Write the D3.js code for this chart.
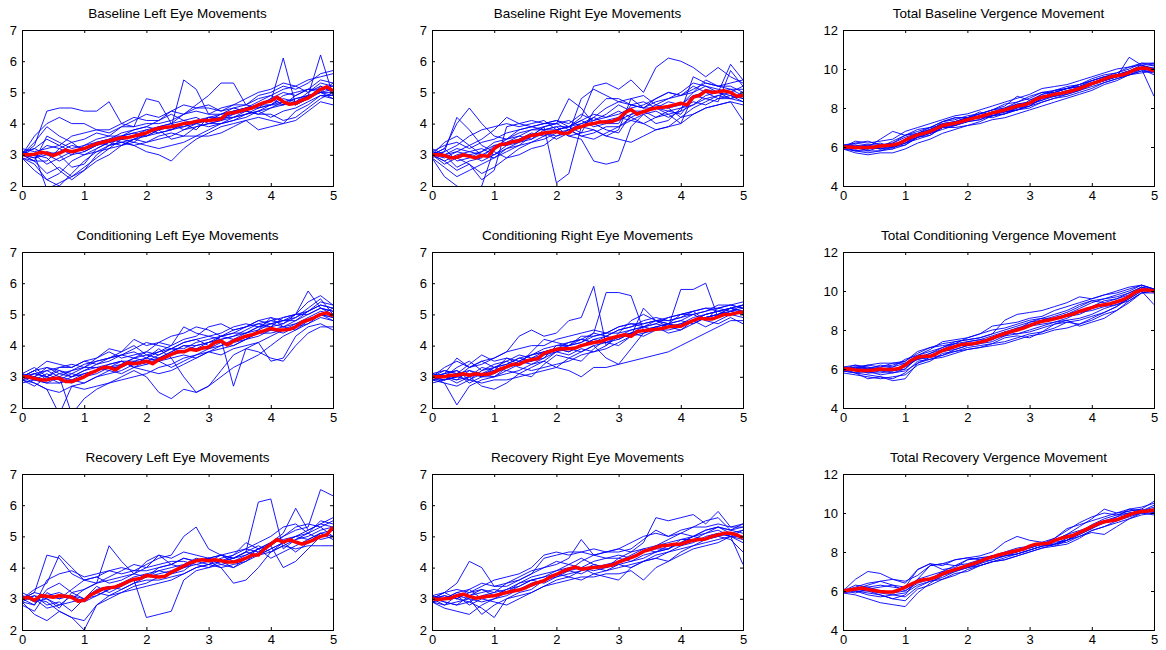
<!DOCTYPE html>
<html>
<head>
<meta charset="utf-8">
<script src="https://cdn.jsdelivr.net/npm/d3@7"></script>
<style>
  body { margin: 0; background: #fff; }
  text { font-family: "Liberation Sans", Arial, sans-serif; fill: #000; }
</style>
</head>
<body>
<div id="chart"></div>
<script>
// sample times (seconds)
var timeFine = [0,0.1,0.2,0.3,0.4,0.5,0.6,0.7,0.8,0.9,1.0,1.1,1.2,1.3,1.4,1.5,1.6,1.7,1.8,1.9,2.0,2.1,2.2,2.3,2.4,2.5,2.6,2.7,2.8,2.9,3.0,3.1,3.2,3.3,3.4,3.5,3.6,3.7,3.8,3.9,4.0,4.1,4.2,4.3,4.4,4.5,4.6,4.7,4.8,4.9,5.0];
var timeCoarse = [0,0.2,0.4,0.6,0.8,1.0,1.2,1.4,1.6,1.8,2.0,2.2,2.4,2.6,2.8,3.0,3.2,3.4,3.6,3.8,4.0,4.2,4.4,4.6,4.8,5.0];

var titles = ["Baseline Left Eye Movements", "Baseline Right Eye Movements", "Total Baseline Vergence Movement",
  "Conditioning Left Eye Movements", "Conditioning Right Eye Movements", "Total Conditioning Vergence Movement",
  "Recovery Left Eye Movements", "Recovery Right Eye Movements", "Total Recovery Vergence Movement"];

var xTicks = [0, 1, 2, 3, 4, 5];
var eyeTicks = [2, 3, 4, 5, 6, 7];
var vergenceTicks = [4, 6, 8, 10, 12];

//Baseline left eye
var baselineLeftMean = [3.00,3.00,3.02,3.08,3.05,2.97,3.05,3.15,3.10,3.15,3.20,3.28,3.35,3.40,3.45,3.50,3.55,3.55,3.60,3.65,3.70,3.80,3.85,3.88,3.90,3.95,4.00,4.02,4.07,4.10,4.10,4.12,4.15,4.33,4.35,4.40,4.45,4.50,4.60,4.68,4.72,4.85,4.70,4.62,4.65,4.75,4.82,4.95,5.10,5.18,5.05];
var baselineLeftTraces = [
  [3.0,3.3,4.4,4.5,4.5,4.4,4.4,4.7,4.0,3.9,4.0,4.0,4.1,4.3,4.4,4.3,4.5,4.6,4.6,4.9,5.0,5.2,5.1,5.3,5.6,5.7],
  [3.0,3.6,4.0,4.2,4.0,4.0,3.8,3.7,3.9,3.9,4.8,4.7,4.0,4.3,4.6,4.9,5.3,5.3,4.6,4.5,4.8,5.0,4.9,5.1,5.4,5.3],
  [2.9,2.5,2.2,2.0,2.4,2.8,3.1,3.3,3.4,3.5,3.6,3.7,3.8,4.0,3.8,4.2,4.2,4.3,4.5,4.6,4.6,4.6,4.7,5.0,5.2,5.0],
  [3.1,3.0,1.9,2.1,2.3,2.6,2.9,3.2,3.5,3.6,3.6,3.8,3.5,3.6,3.6,3.8,4.0,4.1,4.2,4.4,4.5,4.6,4.8,4.9,5.0,4.9],
  [3.0,2.8,2.8,3.2,3.0,3.1,3.3,3.4,3.5,3.6,3.8,3.9,4.0,4.1,4.2,4.0,4.1,4.3,4.4,4.3,4.3,4.1,4.2,4.5,4.8,5.0],
  [3.0,3.0,3.3,3.2,3.4,3.1,3.3,3.5,3.4,3.3,3.1,3.0,2.8,3.2,3.5,3.7,3.9,4.0,4.1,4.2,4.1,4.0,4.4,4.6,4.9,4.9],
  [2.9,2.8,2.4,2.6,2.3,2.5,2.8,3.0,3.3,3.5,3.7,3.9,4.0,3.8,3.9,4.0,4.1,4.4,4.5,4.6,4.7,6.1,4.6,4.8,5.0,5.0],
  [3.0,3.2,3.5,3.3,3.6,3.7,3.8,3.8,4.0,4.2,4.1,4.1,4.4,4.6,4.5,4.5,4.4,4.5,4.6,4.8,4.9,4.7,4.6,4.9,6.2,4.9],
  [3.1,3.0,2.7,2.9,3.1,3.0,3.2,3.4,3.3,3.4,3.3,3.2,3.3,3.4,3.6,3.6,3.7,3.9,4.1,3.8,3.9,4.0,4.1,4.4,4.7,4.6],
  [3.0,2.8,3.6,3.4,3.2,3.3,3.5,3.6,3.6,3.8,3.9,4.1,4.3,4.1,4.0,4.2,4.3,4.4,4.5,4.7,4.9,5.1,5.2,5.0,5.3,5.2],
  [3.0,3.0,2.9,2.5,2.2,2.5,3.0,3.3,3.4,3.3,3.4,3.5,3.6,3.8,4.0,3.9,4.0,4.2,4.3,4.5,4.6,4.8,4.7,4.9,5.0,4.8],
  [3.2,3.1,3.2,3.3,3.1,3.2,3.4,3.5,3.7,3.8,3.9,3.8,3.9,5.4,5.1,4.3,4.3,4.4,4.5,4.5,4.6,4.9,5.0,5.1,5.1,5.2],
  [3.0,2.9,3.0,2.8,3.0,3.3,3.4,3.5,3.6,3.7,3.6,3.8,3.9,3.9,4.0,4.1,4.2,4.2,4.3,4.4,4.6,4.7,4.8,4.9,5.0,5.1],
  [3.0,3.4,3.9,3.6,3.4,3.5,3.7,3.6,3.9,4.1,4.3,4.2,4.4,4.3,4.5,4.6,4.4,4.6,4.8,5.0,5.1,5.3,5.2,5.4,5.5,5.6],
  [2.9,2.7,2.2,2.4,2.8,3.0,3.1,3.2,3.3,3.5,3.4,3.6,3.7,3.6,3.9,4.0,4.0,4.1,4.3,4.4,4.2,4.4,4.5,4.7,4.9,4.8],
  [3.1,3.2,3.0,3.1,3.3,3.2,3.4,3.3,3.6,3.7,3.8,3.7,3.8,4.0,4.1,4.1,4.3,4.5,4.4,4.6,4.8,4.6,4.9,5.1,5.0,5.3],
  [3.0,2.9,3.1,3.0,2.6,2.7,3.2,3.4,3.5,3.4,3.7,3.9,3.8,3.9,4.1,4.2,4.1,4.2,4.4,4.3,4.5,4.7,4.6,4.8,5.2,5.0]
];

//Baseline right eye
var baselineRightMean = [3.00,3.00,2.98,2.90,2.92,3.00,2.95,2.90,2.98,2.95,3.20,3.33,3.35,3.42,3.45,3.55,3.62,3.65,3.70,3.72,3.75,3.68,3.70,3.85,3.90,3.97,4.00,4.05,4.05,4.07,4.15,4.35,4.45,4.30,4.38,4.45,4.50,4.52,4.55,4.60,4.65,4.60,4.85,4.90,5.05,5.00,5.02,5.05,5.00,4.88,4.90];
var baselineRightTraces = [
  [3.0,3.2,4.0,4.5,4.0,3.6,3.5,3.8,3.9,4.0,4.1,3.9,4.2,5.2,5.3,5.1,5.4,5.0,5.8,6.1,6.0,5.8,5.5,5.8,5.5,5.3],
  [3.0,2.8,2.5,2.7,2.2,2.5,3.9,4.0,3.9,3.8,3.9,3.6,3.7,4.4,4.8,4.8,4.6,4.7,4.5,4.5,4.6,5.0,5.4,5.2,5.2,5.0],
  [2.9,2.3,2.0,1.8,2.0,3.2,3.4,3.5,3.6,3.9,2.1,2.4,3.9,4.2,4.0,4.0,4.6,4.5,4.8,5.0,4.9,5.2,5.0,5.0,4.9,4.8],
  [3.1,3.0,3.1,3.0,2.8,3.0,3.3,3.5,3.7,3.6,3.8,3.9,4.0,4.1,4.3,4.6,4.4,4.4,4.5,4.4,4.3,4.8,5.1,5.0,5.1,4.9],
  [3.0,3.4,3.6,3.3,3.0,2.9,3.2,3.4,3.6,3.9,4.0,4.8,4.5,4.0,3.8,3.7,4.3,4.4,4.2,4.3,4.0,4.9,4.8,4.7,5.7,5.2],
  [3.0,2.9,3.1,3.3,3.5,3.8,4.2,4.0,4.1,4.0,4.1,4.0,4.3,4.1,4.2,4.4,4.2,4.0,3.8,3.9,4.0,4.3,4.5,4.6,4.7,4.1],
  [3.2,3.0,2.6,2.8,2.9,3.3,3.4,3.6,3.5,3.8,3.8,3.6,3.5,2.8,2.7,2.8,3.9,4.3,4.0,4.1,4.5,4.6,4.9,5.0,4.8,4.7],
  [3.0,2.8,3.0,3.1,3.2,3.0,3.2,3.3,3.6,3.7,3.6,3.8,3.6,3.7,3.9,3.9,4.2,4.4,4.6,4.5,4.2,4.5,4.7,4.9,4.8,4.9],
  [2.9,3.1,4.2,3.8,3.3,3.1,2.9,3.0,3.2,3.3,3.6,3.7,4.8,5.1,4.9,4.7,4.8,4.9,4.6,4.8,5.0,5.3,5.2,5.0,5.9,5.4],
  [3.0,3.0,2.9,2.7,2.4,2.6,2.9,3.2,3.4,3.6,3.8,3.9,3.7,3.8,3.6,3.5,3.4,3.6,3.8,3.9,4.2,4.3,4.5,4.6,4.7,4.6],
  [3.1,3.3,3.4,3.2,3.4,3.5,3.7,3.8,3.9,4.0,4.0,4.1,3.9,3.8,3.6,3.8,4.8,4.5,4.5,4.3,4.4,5.5,5.3,5.2,5.1,5.1],
  [3.0,2.7,2.9,3.0,3.1,3.4,3.5,3.7,3.8,3.8,3.9,3.9,4.1,3.9,4.0,4.1,4.3,4.4,4.5,4.7,4.6,4.9,5.0,4.8,4.8,5.0],
  [3.0,3.1,3.3,3.6,3.8,3.9,4.0,3.9,4.0,4.1,3.8,3.9,4.1,4.3,4.2,4.3,4.5,4.6,4.8,5.0,4.9,5.0,5.2,5.1,5.0,5.2],
  [2.9,2.6,2.3,2.5,2.7,2.9,3.1,3.3,3.4,3.5,3.7,3.8,3.6,3.5,3.7,3.9,4.1,4.0,4.2,4.4,4.5,4.7,4.6,4.8,4.9,4.7],
  [3.1,3.0,3.2,3.1,3.0,3.2,3.5,3.6,3.8,3.9,4.0,3.8,4.0,4.2,4.5,4.7,4.6,4.5,4.7,4.8,4.9,5.1,5.3,5.2,5.3,5.4],
  [3.0,3.2,2.8,2.9,3.1,3.3,3.3,3.4,3.5,3.7,3.5,3.7,3.9,4.0,4.1,4.2,4.1,4.3,4.4,4.2,4.4,4.6,4.8,4.9,5.0,4.8]
];

//Baseline vergence
var baselineVergenceMean = [6.00,6.00,5.98,5.97,5.97,6.00,6.05,6.08,6.10,6.18,6.35,6.50,6.62,6.70,6.80,6.95,7.10,7.17,7.22,7.30,7.40,7.48,7.55,7.65,7.75,7.82,7.90,8.00,8.10,8.15,8.25,8.45,8.55,8.62,8.70,8.75,8.82,8.90,9.00,9.12,9.25,9.35,9.48,9.60,9.65,9.70,9.82,9.98,10.05,10.02,9.90];
var baselineVergenceTraces = [
  [6.0,6.2,6.3,6.1,6.2,6.6,6.9,7.0,7.3,7.5,7.5,7.7,7.9,8.2,8.3,8.5,8.8,8.9,9.1,9.2,9.5,9.7,9.8,10.1,10.3,10.2],
  [5.9,5.8,5.7,5.8,5.9,6.1,6.5,6.7,6.9,7.1,7.3,7.4,7.6,7.7,7.9,8.1,8.3,8.5,8.7,8.9,9.1,9.3,9.5,9.7,9.9,9.8],
  [6.1,6.1,6.0,6.4,6.8,6.6,6.8,7.0,7.3,7.4,7.6,7.7,7.9,8.1,8.6,8.4,8.7,8.9,9.0,9.2,9.4,9.6,9.7,9.9,10.1,10.0],
  [6.0,5.9,6.0,5.9,6.0,6.2,6.4,6.6,7.0,7.2,7.4,7.6,7.5,7.7,7.9,8.2,8.4,8.6,8.7,8.9,9.2,9.5,9.6,9.8,10.0,8.6],
  [5.9,6.0,5.8,6.0,6.1,6.4,6.7,6.9,7.1,7.2,7.3,7.4,7.7,7.8,7.9,8.1,8.5,8.8,9.0,9.1,9.3,9.4,9.6,10.6,10.2,10.0],
  [6.1,6.2,6.1,6.2,6.0,6.3,6.6,6.8,7.3,7.5,7.5,7.7,7.9,8.0,8.3,8.6,8.8,8.8,9.0,9.2,9.4,9.6,9.8,10.0,10.3,10.3],
  [6.0,5.8,5.9,6.0,6.0,6.1,6.5,6.7,7.0,7.0,7.1,7.3,7.6,7.8,7.9,8.0,8.3,8.5,8.6,8.8,9.0,9.3,9.5,9.7,10.0,9.9],
  [5.9,6.0,6.1,5.9,5.9,6.4,6.6,6.7,7.0,7.3,7.4,7.5,7.8,7.9,8.1,8.2,8.6,8.7,8.9,9.0,9.3,9.5,9.6,9.8,10.1,10.2],
  [6.0,6.1,5.9,6.0,6.3,6.6,6.7,6.9,7.2,7.3,7.5,7.5,7.7,7.8,8.0,8.4,8.6,8.6,8.8,9.1,9.2,9.5,9.7,9.9,10.0,10.1],
  [6.0,5.8,5.8,5.8,6.0,6.2,6.6,6.8,7.1,7.1,7.3,7.6,7.7,7.9,8.1,8.2,8.4,8.7,8.8,8.9,9.2,9.4,9.6,9.8,10.0,9.7],
  [6.1,6.0,6.1,6.1,6.2,6.5,6.7,7.0,7.1,7.3,7.5,7.6,7.8,8.0,8.2,8.3,8.7,8.8,9.0,9.1,9.4,9.6,9.7,9.9,10.2,10.0],
  [5.9,5.9,6.0,5.9,6.1,6.3,6.5,6.6,7.0,7.1,7.4,7.5,7.6,7.7,8.0,8.1,8.5,8.6,8.8,9.0,9.2,9.4,9.6,9.7,9.9,9.9],
  [6.0,6.3,6.2,6.3,6.4,6.8,7.0,7.2,7.4,7.6,7.7,7.9,8.1,8.3,8.5,8.7,9.0,9.1,9.2,9.4,9.6,9.8,10.0,10.1,10.2,10.3],
  [5.9,5.7,5.6,5.7,5.7,5.9,6.2,6.4,6.7,6.9,7.1,7.2,7.4,7.5,7.7,7.9,8.1,8.3,8.5,8.7,8.9,9.2,9.4,9.7,9.8,9.9],
  [6.0,6.0,5.9,6.1,6.0,6.2,6.5,6.9,7.2,7.3,7.5,7.8,7.6,7.9,8.2,8.3,8.5,8.9,9.0,9.1,9.3,9.5,9.6,9.9,10.1,10.0]
];

//Conditioning left eye
var conditioningLeftMean = [3.00,3.00,2.95,2.90,2.90,2.95,2.95,2.85,2.85,2.92,3.00,3.12,3.20,3.30,3.30,3.22,3.35,3.45,3.42,3.45,3.50,3.42,3.55,3.62,3.72,3.80,3.80,3.88,3.85,3.92,3.95,4.10,4.15,4.02,4.15,4.22,4.30,4.35,4.42,4.48,4.55,4.50,4.50,4.52,4.60,4.75,4.82,4.90,5.00,5.05,4.95];
var conditioningLeftTraces = [
  [3.0,3.2,3.5,3.4,3.3,3.5,3.6,3.9,3.8,4.0,3.7,3.8,4.0,4.6,4.4,4.3,4.2,4.3,4.5,4.7,4.8,4.7,5.0,5.75,5.2,5.1],
  [2.9,2.8,2.6,1.8,2.7,2.6,2.7,2.8,2.9,3.0,3.1,3.3,3.4,3.6,3.7,3.8,3.9,4.0,4.2,4.4,4.5,4.6,4.7,4.9,5.1,5.0],
  [3.0,3.1,3.2,3.0,1.8,2.3,2.6,2.8,3.0,3.2,3.0,2.5,2.3,2.6,2.5,2.7,3.0,3.3,3.5,3.7,4.0,4.3,4.5,4.7,5.0,5.2],
  [2.9,2.7,3.0,2.9,3.1,3.3,3.3,3.4,3.5,3.3,3.5,3.6,3.8,4.0,3.9,4.1,4.2,2.7,3.9,3.8,3.6,3.5,4.0,4.4,4.6,4.6],
  [3.0,3.0,2.9,3.1,3.0,3.2,3.3,3.2,3.4,3.6,3.7,3.6,3.8,4.0,4.0,4.1,4.2,4.3,4.4,4.6,4.6,4.7,4.9,5.1,5.4,5.3],
  [3.1,3.0,3.2,3.3,3.3,3.5,3.4,3.5,3.7,3.8,3.6,3.5,3.3,3.5,3.7,3.9,4.1,4.0,4.2,4.5,4.9,4.6,4.5,4.8,5.0,4.8],
  [3.0,2.8,2.6,2.5,2.7,2.8,3.0,3.1,3.2,3.4,3.6,3.9,3.6,3.0,2.5,2.7,3.2,3.7,3.9,4.1,4.3,4.5,4.6,4.8,5.0,4.9],
  [2.9,3.1,3.0,3.3,3.4,3.3,3.6,3.8,3.6,3.7,3.8,4.1,4.3,4.4,4.6,4.5,4.3,4.4,4.6,4.8,4.9,4.8,4.9,5.2,5.5,5.0],
  [3.0,2.9,2.8,2.8,3.0,3.1,3.2,3.4,3.5,3.5,3.4,3.6,3.7,3.8,3.9,3.9,4.0,4.2,4.3,4.4,4.4,4.5,4.7,4.8,5.0,4.9],
  [3.1,3.3,3.0,3.2,3.1,3.0,3.1,3.3,3.5,3.3,3.2,3.1,3.2,3.4,3.6,3.8,3.7,3.9,4.0,4.1,3.5,3.6,4.3,4.6,4.7,4.5],
  [2.8,2.9,3.1,2.9,2.8,3.0,3.2,3.3,3.4,3.6,3.5,3.7,3.9,3.9,4.1,4.2,4.3,4.4,4.4,4.5,4.7,4.8,4.8,5.1,5.3,5.2],
  [3.0,3.2,2.9,3.0,3.2,3.4,3.5,3.6,3.8,4.2,4.0,4.1,4.0,4.2,4.3,4.6,4.7,4.5,4.6,4.7,4.6,4.9,5.0,5.4,5.6,5.3],
  [3.0,3.1,3.0,2.8,2.9,3.1,3.2,3.3,3.3,3.5,3.6,3.8,3.9,3.8,4.0,4.1,4.3,4.2,4.4,4.6,4.7,4.8,5.0,5.0,5.2,5.0],
  [2.9,3.0,3.3,3.1,3.2,3.3,3.5,3.6,3.7,3.9,4.1,4.0,3.9,4.1,4.2,4.3,4.4,4.6,4.7,4.6,4.8,4.9,5.0,5.1,5.3,5.2],
  [3.1,2.9,2.8,3.0,2.9,2.8,3.0,3.2,3.1,3.3,3.4,3.5,3.6,3.7,3.6,3.8,4.0,4.1,4.2,4.3,4.5,4.4,4.6,4.7,4.9,4.8],
  [3.0,3.2,3.3,3.2,3.0,3.2,3.4,3.6,3.7,3.6,3.8,3.7,3.9,4.1,4.2,4.0,4.3,4.5,4.6,4.8,4.7,4.6,4.8,5.0,5.2,5.1]
];

//Conditioning right eye
var conditioningRightMean = [3.00,3.00,3.00,3.05,3.05,3.10,3.05,3.10,3.07,3.08,3.15,3.25,3.32,3.40,3.40,3.50,3.55,3.58,3.75,3.82,3.88,3.90,3.90,3.92,4.00,4.05,4.10,4.12,4.20,4.25,4.30,4.35,4.30,4.45,4.48,4.50,4.52,4.55,4.60,4.62,4.62,4.72,4.80,4.88,4.85,4.85,4.92,5.00,5.00,5.05,5.08];
var conditioningRightTraces = [
  [3.0,3.1,3.6,3.3,3.4,3.6,3.8,4.3,4.5,4.3,4.4,4.8,4.9,5.9,4.0,4.4,4.8,5.0,4.8,4.7,4.8,5.0,4.8,5.2,5.3,5.4],
  [3.0,2.8,2.1,2.7,2.9,3.0,3.2,3.4,3.5,3.6,3.8,4.0,4.1,4.4,5.7,5.7,5.6,4.5,4.6,4.7,4.6,4.8,4.9,5.0,5.1,5.2],
  [2.9,2.9,3.0,3.3,3.5,3.3,3.5,3.7,3.6,3.8,3.9,3.8,4.0,4.2,4.1,4.3,4.4,4.6,4.7,4.6,5.8,5.8,6.0,4.9,5.1,5.0],
  [3.0,3.1,3.2,2.9,2.8,2.9,2.9,3.0,3.1,3.2,3.3,3.2,3.0,3.3,3.3,3.4,3.5,3.6,3.7,3.8,4.0,4.2,4.4,4.6,4.8,4.8],
  [3.1,3.0,2.8,3.0,2.7,2.6,2.8,3.1,3.3,3.5,3.8,3.7,3.9,3.8,4.0,4.3,4.4,4.5,4.5,4.6,4.7,4.9,5.0,5.1,5.2,5.0],
  [2.9,3.0,3.3,3.5,3.2,3.3,3.4,3.6,3.5,3.7,3.9,4.0,4.2,4.1,4.1,4.0,4.3,5.2,4.8,4.6,4.5,4.7,4.9,5.0,5.2,5.1],
  [3.0,2.9,3.0,3.1,3.0,3.1,3.3,3.5,3.7,3.8,3.9,4.1,4.2,4.1,4.3,4.5,4.6,4.7,4.8,4.8,4.9,5.0,5.1,5.2,5.1,5.3],
  [3.1,3.2,3.1,2.8,3.0,3.3,3.2,3.1,3.0,3.4,3.7,3.6,3.5,3.9,4.2,4.3,4.5,4.6,4.7,4.9,5.0,5.1,4.8,4.7,4.9,4.7],
  [2.9,3.0,2.9,3.2,3.1,3.2,3.6,3.5,3.4,3.6,4.0,4.0,4.1,4.3,4.4,4.4,4.5,4.6,4.5,4.7,4.8,4.7,4.9,5.0,5.2,5.3],
  [3.0,2.9,3.0,2.9,3.1,3.0,3.1,3.2,3.4,3.5,3.3,3.6,3.8,4.0,3.6,3.4,3.9,4.4,4.6,4.4,4.5,4.8,4.6,4.8,5.0,4.9],
  [3.0,3.2,3.1,3.4,3.7,3.5,3.6,3.4,3.8,4.2,4.1,4.0,4.3,4.3,4.4,4.6,4.7,4.7,4.8,4.7,5.0,5.1,5.2,5.2,5.3,5.2],
  [2.9,2.8,2.7,2.9,3.2,3.4,3.5,3.3,3.2,3.3,3.4,3.5,3.7,3.8,3.9,4.1,4.3,4.4,4.5,4.5,4.6,4.8,5.0,5.1,5.0,5.1],
  [3.0,3.1,3.2,3.0,3.1,3.3,3.4,3.6,3.7,3.9,4.0,4.1,4.2,4.4,4.3,4.5,4.6,4.8,4.9,4.8,4.9,5.1,5.2,5.1,5.2,5.3],
  [2.8,2.9,3.1,3.2,3.0,3.0,3.3,3.4,3.6,3.7,3.8,3.9,3.8,4.0,4.1,4.2,4.4,4.3,4.5,4.6,4.7,4.8,4.9,5.0,5.1,5.0],
  [3.1,3.0,2.9,3.0,3.3,3.2,3.3,3.5,3.7,3.8,3.9,3.8,4.0,4.2,4.3,4.2,4.4,4.5,4.6,4.7,4.6,4.8,5.0,5.1,5.2,5.1],
  [3.0,3.3,3.5,3.3,3.5,3.6,3.8,3.9,4.0,4.0,4.2,4.3,4.4,4.5,4.4,4.6,4.7,4.6,4.8,4.9,5.0,5.0,5.1,5.3,5.3,5.2]
];

//Conditioning vergence
var conditioningVergenceMean = [6.00,6.00,5.95,5.92,5.92,5.95,6.00,5.98,5.98,6.02,6.20,6.45,6.60,6.65,6.65,6.78,6.95,7.05,7.15,7.25,7.28,7.30,7.38,7.45,7.58,7.70,7.82,7.92,8.00,8.10,8.22,8.35,8.45,8.50,8.58,8.65,8.75,8.82,8.95,9.05,9.15,9.25,9.30,9.35,9.45,9.55,9.72,9.95,10.05,10.05,10.00];
var conditioningVergenceTraces = [
  [6.0,6.1,6.2,6.3,6.3,6.4,6.9,7.1,7.3,7.4,7.5,7.6,7.8,8.5,8.8,8.9,9.0,9.2,9.4,9.7,9.6,9.8,9.9,10.1,10.3,10.1],
  [5.8,5.7,5.6,5.5,5.6,5.7,6.2,6.4,6.8,6.9,7.1,7.2,7.3,7.4,7.6,7.8,7.9,8.1,8.4,8.5,8.7,8.9,9.2,9.6,10.0,10.0],
  [6.0,6.1,6.0,6.2,6.1,6.3,6.5,6.6,7.0,7.3,7.2,7.4,7.6,7.8,8.0,8.4,8.5,8.6,8.7,8.8,9.1,9.3,9.4,9.7,10.2,9.9],
  [6.1,5.9,5.8,5.9,5.8,6.0,6.6,6.7,6.9,7.0,7.2,7.3,7.4,7.7,8.0,8.2,8.3,8.4,8.6,8.9,9.0,9.2,9.3,9.6,10.0,9.3],
  [5.9,5.8,5.5,5.6,5.4,5.5,6.3,6.6,6.7,7.0,7.2,7.3,7.6,7.7,7.8,7.9,8.1,8.3,8.4,8.3,8.6,8.9,9.2,9.7,10.1,10.0],
  [6.0,6.0,6.1,6.0,6.1,6.5,6.7,6.9,7.1,7.4,7.5,7.6,7.8,8.0,8.2,8.4,8.6,8.6,8.8,9.1,9.4,9.6,9.7,9.9,10.2,10.1],
  [6.0,6.2,6.1,5.9,6.0,6.1,6.5,6.6,6.9,7.1,7.4,7.5,7.5,7.9,8.1,8.2,8.5,8.7,8.9,9.2,9.5,9.4,9.6,9.8,10.1,10.0],
  [6.0,5.8,5.9,5.7,5.8,5.9,6.3,6.5,6.7,6.9,7.0,7.1,7.3,7.6,7.7,7.6,7.9,8.3,8.5,8.6,8.8,9.1,9.3,9.5,9.9,10.0],
  [5.9,6.0,6.2,6.1,6.2,6.4,6.8,7.1,7.2,7.3,7.6,7.8,8.0,8.1,8.3,8.5,8.6,8.8,9.0,9.3,9.5,9.6,9.8,10.0,10.3,10.1],
  [6.1,6.0,6.0,6.0,5.9,6.2,6.5,6.8,7.1,7.3,7.4,7.5,7.7,7.9,7.8,8.0,8.2,8.4,8.5,8.2,8.4,8.6,9.0,9.5,9.9,9.9],
  [6.0,6.1,5.8,5.8,5.9,6.0,6.6,6.8,7.0,7.2,7.3,7.4,7.5,7.8,8.1,8.3,8.4,8.6,8.8,9.0,9.2,9.5,9.6,9.9,10.2,10.0],
  [6.1,6.2,6.0,6.1,6.3,6.3,6.7,7.0,7.4,7.5,7.6,7.8,8.2,8.3,8.4,8.6,8.7,9.0,9.2,9.4,9.6,9.8,10.0,10.2,10.3,10.1],
  [5.9,5.8,5.7,5.6,5.5,5.8,6.4,6.5,6.6,6.8,7.0,7.1,7.2,7.3,7.5,7.7,7.8,8.0,8.1,8.3,8.5,8.8,9.0,9.4,9.9,10.0]
];

//Recovery left eye
var recoveryLeftMean = [3.00,3.05,2.95,3.10,3.08,3.05,3.10,3.08,3.05,2.92,2.95,3.12,3.22,3.32,3.35,3.38,3.45,3.55,3.62,3.65,3.75,3.72,3.70,3.72,3.85,3.95,4.05,4.15,4.22,4.25,4.22,4.25,4.22,4.18,4.18,4.22,4.30,4.40,4.40,4.60,4.75,4.90,4.82,4.90,4.82,4.75,4.82,4.90,5.00,5.05,5.30];
var recoveryLeftTraces = [
  [3.0,3.2,4.4,4.3,3.8,3.6,3.7,3.9,4.0,3.9,4.1,4.3,4.4,5.0,5.3,4.6,4.4,4.3,4.5,6.1,6.2,4.6,4.9,5.1,5.5,5.4],
  [2.9,2.5,2.3,2.6,2.4,2.0,2.8,3.0,3.2,3.3,3.4,3.5,3.6,3.8,4.0,4.1,4.0,4.1,4.2,4.4,4.6,4.8,5.0,5.1,4.9,5.0],
  [3.0,3.3,3.5,4.4,4.0,3.6,3.5,4.7,4.2,3.8,3.7,4.0,4.1,4.3,4.2,4.3,4.4,4.5,4.6,4.5,4.7,5.0,5.2,5.3,6.5,6.3],
  [3.1,2.9,3.0,2.7,3.2,3.0,3.4,3.2,3.4,3.6,2.4,2.5,2.6,3.6,3.9,4.0,4.2,4.0,4.3,4.4,4.5,4.7,4.6,4.7,4.7,4.7],
  [3.0,3.1,2.8,2.9,2.6,3.0,3.1,3.3,3.5,3.7,3.8,3.9,4.0,4.1,4.3,4.2,4.0,3.5,3.6,4.0,4.5,4.7,4.9,5.0,5.2,5.3],
  [2.8,2.6,3.2,3.0,3.3,3.6,3.7,3.5,3.6,3.8,4.2,4.4,4.1,4.0,4.2,4.3,4.1,4.0,4.2,4.5,4.8,5.1,5.9,5.2,5.4,5.6],
  [3.0,3.0,2.9,2.6,2.4,2.3,2.8,3.1,3.2,3.4,3.5,3.7,3.8,3.9,4.2,4.3,4.4,4.2,4.3,4.6,4.7,4.0,4.2,4.6,5.0,5.2],
  [3.2,3.0,3.1,3.2,3.0,3.3,3.5,3.7,3.9,4.1,4.0,4.4,4.3,4.5,4.4,4.3,4.2,4.4,4.6,4.8,5.0,5.3,5.4,5.1,5.3,5.0],
  [2.9,3.1,3.0,2.8,2.9,3.0,3.2,3.1,3.3,3.5,3.6,3.6,3.7,3.8,4.0,4.1,4.2,4.3,4.5,4.4,4.6,4.8,4.5,4.8,5.1,5.0],
  [3.0,2.8,3.6,3.8,3.9,3.7,3.8,3.9,3.8,3.9,3.9,4.0,4.1,4.3,4.2,4.1,4.3,4.4,4.8,4.6,4.8,5.0,5.3,5.4,5.3,5.5],
  [3.1,3.0,2.7,2.8,3.1,3.0,3.3,3.4,3.3,3.5,3.7,3.8,3.9,4.0,4.1,4.0,4.1,4.2,4.4,4.6,4.3,4.5,4.7,4.9,5.1,4.9],
  [3.0,3.2,3.1,3.0,3.1,2.9,3.1,3.3,3.5,3.6,3.7,3.9,3.8,4.0,4.2,4.3,4.2,4.3,4.4,4.6,4.8,4.9,5.0,4.9,5.1,5.2],
  [2.9,2.8,3.3,3.5,3.2,3.3,3.5,3.6,3.7,3.8,4.0,4.1,4.2,4.2,4.1,4.2,4.4,4.3,4.5,4.7,4.5,4.8,5.0,5.2,5.4,5.3]
];

//Recovery right eye
var recoveryRightMean = [3.00,2.98,3.00,3.02,3.10,3.15,3.08,3.02,3.05,3.08,3.10,3.15,3.20,3.25,3.28,3.35,3.45,3.52,3.58,3.70,3.78,3.88,3.95,4.02,3.95,3.98,4.00,4.02,4.05,4.08,4.18,4.25,4.32,4.40,4.52,4.58,4.65,4.70,4.72,4.75,4.75,4.82,4.88,4.90,4.92,5.00,5.05,5.10,5.10,5.05,4.95];
var recoveryRightTraces = [
  [3.0,3.2,3.5,4.2,4.0,3.4,3.5,3.6,3.8,4.0,4.1,4.3,4.9,4.4,4.5,4.6,4.5,4.8,5.6,5.5,5.6,5.7,5.4,5.8,5.3,5.4],
  [2.9,2.7,2.6,2.5,2.8,3.0,3.2,3.4,3.6,3.7,3.8,3.9,4.0,3.8,3.7,3.6,4.0,4.2,4.4,4.5,4.6,4.7,4.9,5.0,5.1,5.0],
  [3.1,3.0,3.2,3.1,3.3,3.2,3.5,3.7,3.9,4.0,4.2,4.1,4.3,4.1,4.0,4.3,4.5,4.6,4.7,4.9,5.1,5.0,5.2,5.3,5.2,5.3],
  [3.0,2.8,2.9,3.0,2.5,2.8,3.0,3.1,3.2,3.4,3.6,3.7,3.6,3.8,3.9,4.0,4.1,4.2,4.3,4.2,4.5,4.7,4.8,4.9,5.0,4.1],
  [3.0,3.1,3.0,3.3,3.0,2.9,2.8,3.0,3.2,3.4,3.5,3.6,3.7,3.7,3.8,3.8,3.9,3.6,4.0,4.2,4.4,4.6,4.7,4.8,5.0,4.8],
  [2.9,3.0,3.2,3.3,3.5,3.4,3.4,3.6,3.8,4.3,4.4,4.5,4.5,4.6,4.5,4.5,4.6,4.9,5.2,5.0,5.1,5.3,5.5,5.6,5.2,5.4],
  [3.1,2.9,2.8,2.9,3.1,3.2,3.3,3.4,3.6,3.5,3.7,3.8,3.9,4.0,4.1,4.2,4.3,4.5,4.6,4.6,4.8,5.0,5.1,5.3,5.1,5.2],
  [3.0,3.2,3.0,2.9,2.7,2.4,3.0,3.2,3.3,3.6,3.8,3.9,3.8,4.0,3.9,4.1,4.2,4.4,4.5,4.7,4.7,4.9,4.9,5.0,4.9,4.5],
  [2.9,3.0,3.1,2.8,3.0,3.1,3.2,3.3,3.5,3.6,3.7,3.9,4.2,4.4,4.3,4.3,4.2,4.3,4.5,4.6,4.9,5.0,5.2,5.3,5.2,5.1],
  [3.0,2.9,2.8,3.1,3.2,3.3,3.2,3.5,3.6,3.7,3.9,4.0,4.0,3.9,4.0,4.1,4.0,4.2,4.3,4.5,4.7,4.8,5.0,5.1,5.0,4.9],
  [3.1,3.2,3.3,3.2,3.4,3.6,3.7,3.8,4.0,4.4,4.5,4.4,4.5,4.4,4.5,4.6,4.8,5.0,5.1,5.0,5.2,5.3,5.3,5.4,5.3,5.3],
  [3.0,3.1,3.0,3.2,3.3,3.1,3.3,3.5,3.7,3.8,3.9,4.1,4.0,4.2,4.3,4.4,4.3,4.5,4.7,4.8,4.9,4.9,5.1,5.2,5.0,5.2],
  [2.9,2.8,3.1,3.0,2.9,3.0,3.1,3.3,3.4,3.6,3.8,3.7,3.9,4.1,4.0,4.2,4.4,4.6,4.5,4.6,4.8,5.0,4.9,5.1,5.0,5.0]
];

//Recovery vergence
var recoveryVergenceMean = [6.00,6.05,6.10,6.15,6.08,6.02,5.98,5.95,5.95,6.05,6.20,6.35,6.50,6.58,6.62,6.72,6.88,7.00,7.10,7.20,7.30,7.40,7.52,7.65,7.75,7.85,7.92,8.00,8.08,8.15,8.30,8.40,8.42,8.45,8.60,8.70,8.78,8.85,9.00,9.15,9.30,9.45,9.55,9.60,9.65,9.78,9.90,10.02,10.08,10.10,10.15];
var recoveryVergenceTraces = [
  [6.0,6.6,7.0,6.9,6.6,6.4,7.1,7.4,7.3,7.6,7.7,7.8,8.0,8.5,8.8,8.6,8.5,8.7,9.1,9.5,9.8,10.0,9.9,10.0,10.1,10.2],
  [5.9,5.8,5.6,5.4,5.3,5.2,5.9,6.4,6.8,7.0,7.2,7.3,7.5,7.6,7.8,8.0,8.2,8.3,8.4,8.7,9.1,9.3,9.5,9.7,9.9,10.0],
  [6.0,6.2,6.4,6.5,6.3,6.0,6.5,6.6,7.0,7.3,7.4,7.6,7.8,7.9,8.1,8.3,8.5,8.4,8.7,9.0,9.4,9.7,9.9,10.1,10.2,10.6],
  [6.1,6.0,5.9,5.8,5.6,5.8,6.6,6.8,7.0,7.1,7.2,7.4,7.8,7.9,8.0,8.2,8.4,8.3,8.6,8.8,9.0,8.9,9.3,9.7,10.0,10.0],
  [6.0,5.9,6.1,6.2,6.3,6.2,7.1,7.4,7.1,7.2,7.6,7.7,7.7,7.8,7.9,8.1,8.3,8.5,8.6,8.9,9.2,9.5,9.8,10.2,10.1,10.3],
  [5.9,6.1,6.0,5.8,5.6,5.5,6.1,6.3,6.6,6.9,7.0,7.3,7.5,7.7,7.9,8.1,8.3,8.4,8.6,8.9,9.2,9.6,9.7,9.9,10.0,9.9],
  [6.0,6.3,6.2,6.0,5.9,6.0,6.4,6.6,6.9,7.1,7.3,7.5,7.6,7.8,8.0,8.3,8.4,8.6,8.9,9.3,9.7,10.2,10.0,10.1,10.2,10.0],
  [6.1,6.0,5.8,5.7,5.8,5.9,6.3,6.5,6.7,7.0,7.2,7.4,7.6,7.8,7.9,8.1,8.3,8.4,8.6,9.0,9.3,9.5,9.6,9.9,10.0,10.2],
  [6.0,6.1,6.3,6.5,6.6,6.5,6.8,7.3,7.4,7.6,7.7,7.6,7.8,8.0,8.2,8.3,8.4,8.7,9.2,9.4,9.6,9.8,10.0,10.2,10.3,10.5],
  [6.0,6.1,6.2,6.3,6.2,6.1,6.6,7.3,7.4,7.3,7.6,7.7,7.8,7.9,8.1,8.2,8.4,8.6,8.9,9.1,9.3,9.6,9.8,10.0,10.1,10.4],
  [5.9,6.0,6.0,5.9,5.8,5.7,6.2,6.5,6.6,6.8,7.1,7.3,7.5,7.6,7.8,8.0,8.2,8.4,8.5,8.8,9.1,9.3,9.6,9.8,10.0,10.1]
];

var panels = [
  { traces: baselineLeftTraces, mean: baselineLeftMean, ticks: eyeTicks },
  { traces: baselineRightTraces, mean: baselineRightMean, ticks: eyeTicks },
  { traces: baselineVergenceTraces, mean: baselineVergenceMean, ticks: vergenceTicks },
  { traces: conditioningLeftTraces, mean: conditioningLeftMean, ticks: eyeTicks },
  { traces: conditioningRightTraces, mean: conditioningRightMean, ticks: eyeTicks },
  { traces: conditioningVergenceTraces, mean: conditioningVergenceMean, ticks: vergenceTicks },
  { traces: recoveryLeftTraces, mean: recoveryLeftMean, ticks: eyeTicks },
  { traces: recoveryRightTraces, mean: recoveryRightMean, ticks: eyeTicks },
  { traces: recoveryVergenceTraces, mean: recoveryVergenceMean, ticks: vergenceTicks }
];

//Layout of the 3x3 grid.
var svgWidth = 1166, svgHeight = 650;
var colLeft = [22, 432, 843];
var rowTop = [30, 252, 474];
var plotWidth = 311, plotHeight = 156;

var svg = d3.select("#chart").append("svg")
  .attr("width", svgWidth)
  .attr("height", svgHeight);

panels.forEach(function(p, i) {
  var col = i % 3, row = Math.floor(i / 3);
  var g = svg.append("g")
    .attr("transform", "translate(" + colLeft[col] + "," + rowTop[row] + ")");

  var x = d3.scaleLinear().domain([0, 5]).range([0, plotWidth]);
  var y = d3.scaleLinear().domain(d3.extent(p.ticks)).range([plotHeight, 0]);

  g.append("clipPath").attr("id", "clip" + i)
    .append("rect").attr("width", plotWidth).attr("height", plotHeight);

  var plot = g.append("g").attr("clip-path", "url(#clip" + i + ")");

  var traceLine = d3.line()
    .x(function(d, k) { return x(timeCoarse[k]); })
    .y(function(d) { return y(d); });
  var meanLine = d3.line()
    .x(function(d, k) { return x(timeFine[k]); })
    .y(function(d) { return y(d); });

  plot.selectAll("path.trace")
    .data(p.traces)
    .enter().append("path")
    .attr("class", "trace")
    .attr("d", traceLine)
    .attr("fill", "none")
    .attr("stroke", "#0000ff")
    .attr("stroke-opacity", 0.9)
    .attr("stroke-width", 1);

  plot.append("path")
    .attr("d", meanLine(p.mean))
    .attr("fill", "none")
    .attr("stroke", "#ff0000")
    .attr("stroke-width", 3.5)
    .attr("stroke-linejoin", "round");

  //Axes with inward ticks on all four sides.
  var bottom = g.append("g").attr("transform", "translate(0," + plotHeight + ")")
    .call(d3.axisBottom(x).tickValues(xTicks).tickSize(-3).tickPadding(5).tickFormat(d3.format("d")));
  var top = g.append("g")
    .call(d3.axisTop(x).tickValues(xTicks).tickSize(-3).tickFormat(""));
  var left = g.append("g")
    .call(d3.axisLeft(y).tickValues(p.ticks).tickSize(-3).tickPadding(5).tickFormat(d3.format("d")));
  var right = g.append("g").attr("transform", "translate(" + plotWidth + ",0)")
    .call(d3.axisRight(y).tickValues(p.ticks).tickSize(-3).tickFormat(""));

  [bottom, top, left, right].forEach(function(a) {
    a.select(".domain").attr("stroke", "#000").attr("stroke-width", 1);
    a.selectAll(".tick line").attr("stroke", "#000");
    a.selectAll("text").attr("font-size", 13).attr("font-family", "Liberation Sans, Arial, sans-serif");
  });

  g.append("text")
    .attr("x", plotWidth / 2)
    .attr("y", -12)
    .attr("text-anchor", "middle")
    .attr("font-size", 13.5)
    .text(titles[i]);
});
</script>
</body>
</html>
